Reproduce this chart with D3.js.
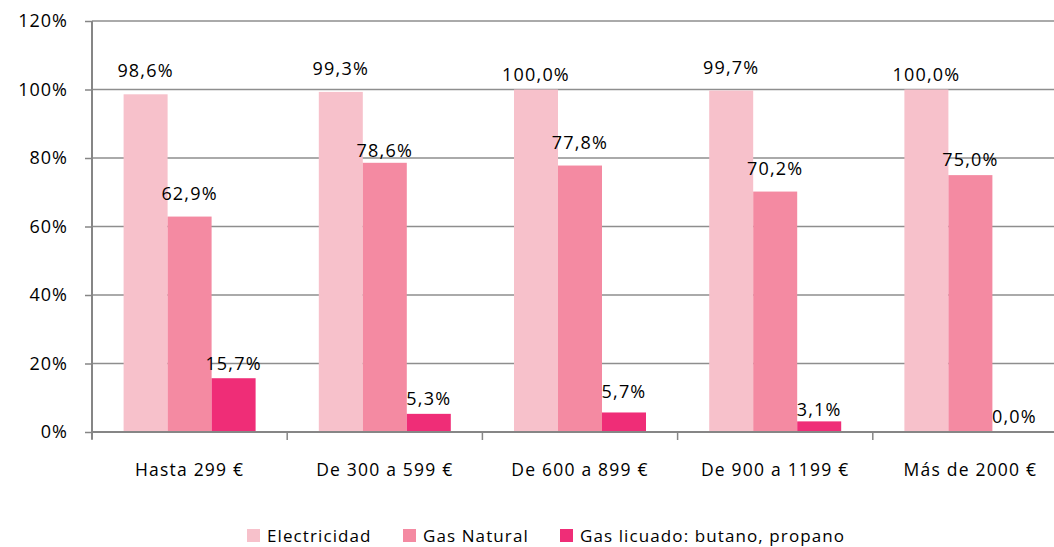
<!DOCTYPE html>
<html>
<head>
<meta charset="utf-8">
<script src="https://cdn.jsdelivr.net/npm/d3@7"></script>
<style>
  body { margin: 0; background: #fff; }
  text { font-family: "Open Sans", sans-serif; fill: #000; }
</style>
</head>
<body>
<div id="chart"></div>
<script>
// data
var categories = ["Hasta 299 €", "De 300 a 599 €", "De 600 a 899 €", "De 900 a 1199 €", "Más de 2000 €"];
var seriesNames = ["Electricidad", "Gas Natural", "Gas licuado: butano, propano"];
var electricidad = [0.986, 0.993, 1.000, 0.997, 1.000];
var gasNatural = [0.629, 0.786, 0.778, 0.702, 0.750];
var gasLicuado = [0.157, 0.053, 0.057, 0.031, 0.000];
var yTicks = [0, 0.2, 0.4, 0.6, 0.8, 1.0, 1.2];

// label lift above bar top (px), labels were hand placed in the original
var labelLift = [[17, 17, 9, 17, 9], [17, 6, 17, 17, 9], [8, 9, 14, 5, 9]];
var colors = ["#F7C1CB", "#F48AA2", "#EF2D77"];

var values = [electricidad, gasNatural, gasLicuado];

var W = 1054, H = 547;
var svg = d3.select("#chart")
    .append("svg")
        .attr("width", W)
        .attr("height", H);

var x = d3.scaleBand()
    .domain(categories)
    .range([92, 1068]);

var xs = d3.scaleBand()
    .domain(seriesNames)
    .range([0, 132]);

var groupOff = (x.bandwidth() - 132) / 2;

var y = d3.scaleLinear()
    .domain([0, 1.2])
    .range([432, 21]);

var fmt = function(v) { return (v * 100).toFixed(1).replace(".", ",") + "%"; };

// gridlines
svg.append("g")
    .selectAll("line")
    .data(yTicks.slice(1))
    .enter()
    .append("line")
      .attr("x1", 92)
      .attr("x2", W)
      .attr("y1", function(d) { return y(d); })
      .attr("y2", function(d) { return y(d); })
      .attr("stroke", "#8E8E8E")
      .attr("stroke-width", 1.5);

// y axis
var yAxis = svg.append("g")
    .attr("transform", "translate(92,0)")
    .call(d3.axisLeft(y).tickValues(yTicks).tickSize(7).tickPadding(17)
        .tickFormat(function(d) { return Math.round(d * 100) + "%"; }));
yAxis.select(".domain").attr("stroke", "#868686").attr("stroke-width", 2)
    .attr("d", "M0,21V439");
yAxis.selectAll(".tick line").attr("stroke", "#868686").attr("stroke-width", 1.5);
yAxis.selectAll(".tick text")
    .style("font-family", "'Open Sans', sans-serif")
    .style("font-size", "18px")
    .style("letter-spacing", "1px")
    .attr("fill", "#000");

// bars
values.forEach(function(vals, s) {
  svg.append("g")
    .selectAll("rect")
    .data(vals)
    .enter()
    .append("rect")
      .attr("x", function(d, i) { return x(categories[i]) + groupOff + xs(seriesNames[s]); })
      .attr("y", function(d) { return y(d); })
      .attr("width", xs.bandwidth())
      .attr("height", function(d) { return y(0) - y(d); })
      .attr("fill", colors[s]);
});

// x axis
var xAxis = svg.append("g")
    .attr("transform", "translate(0,432)");
xAxis.append("line")
    .attr("x1", 92).attr("x2", W)
    .attr("stroke", "#868686").attr("stroke-width", 2);
xAxis.selectAll(".tk")
    .data(categories)
    .enter()
    .append("line")
      .attr("x1", function(d) { return x(d); })
      .attr("x2", function(d) { return x(d); })
      .attr("y1", 0).attr("y2", 8)
      .attr("stroke", "#868686").attr("stroke-width", 1.5);
xAxis.selectAll(".lbl")
    .data(categories)
    .enter()
    .append("text")
      .attr("x", function(d) { return x(d) + x.bandwidth() / 2; })
      .attr("y", 44)
      .attr("text-anchor", "middle")
      .style("font-size", "17.5px")
      .style("letter-spacing", "1.2px")
      .text(function(d) { return d; });

// value labels
values.forEach(function(vals, s) {
  svg.append("g")
    .selectAll("text")
    .data(vals)
    .enter()
    .append("text")
      .attr("x", function(d, i) { return x(categories[i]) + groupOff + xs(seriesNames[s]) + xs.bandwidth() / 2; })
      .attr("y", function(d, i) { return y(d) - labelLift[s][i]; })
      .attr("text-anchor", "middle")
      .style("font-size", "18px")
      .style("letter-spacing", "1.2px")
      .text(function(d) { return fmt(d); });
});

// legend
var legX = [247, 403, 560];
var legend = svg.append("g");
seriesNames.forEach(function(name, s) {
  legend.append("rect")
    .attr("x", legX[s]).attr("y", 529)
    .attr("width", 13).attr("height", 13)
    .attr("fill", colors[s]);
  legend.append("text")
    .attr("x", legX[s] + 20).attr("y", 542)
    .style("font-size", "17px")
    .style("letter-spacing", "1.1px")
    .text(name);
});
</script>
</body>
</html>
